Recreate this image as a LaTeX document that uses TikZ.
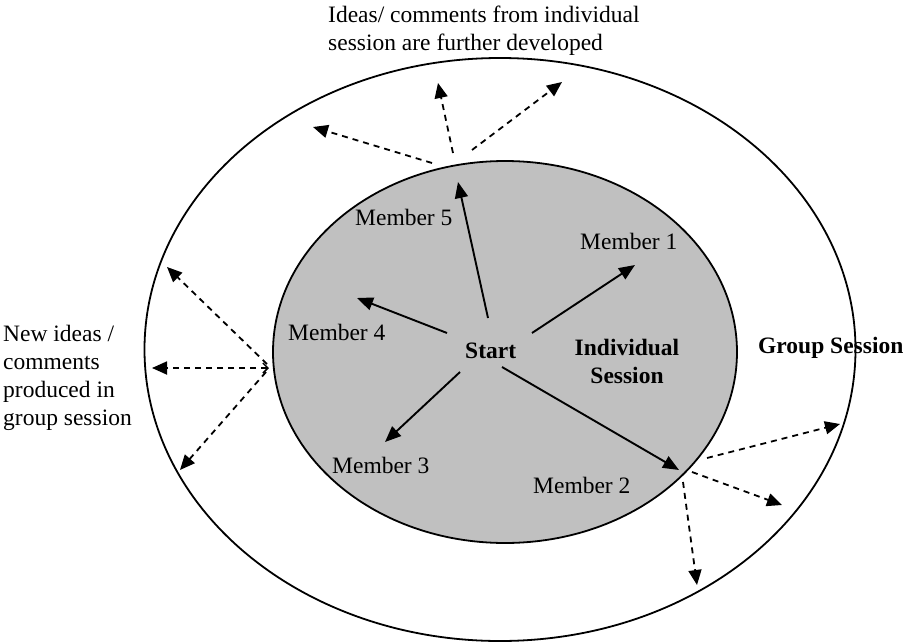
\documentclass[tikz,border=0pt]{standalone}
\usepackage{fontspec}
\setmainfont{Liberation Serif}
\usetikzlibrary{arrows.meta,shapes.geometric}
\definecolor{sessiongrey}{RGB}{192,192,192}
\begin{document}
\begin{tikzpicture}[x=1pt,y=-1pt,
  every node/.style={inner sep=0pt, font=\fontsize{23.5}{28}\selectfont},
  txt/.style={anchor=base west},
  ring/.style={draw, line width=1.8pt, ellipse, inner sep=0pt},
  solidarrow/.style={line width=1.9pt, -{Triangle[length=16pt,width=13pt]}},
  dasharrow/.style={line width=1.8pt, dash pattern=on 6pt off 5pt, -{Triangle[length=15pt,width=13pt]}},
]
\useasboundingbox (0,0) rectangle (906,643);
% group session text (ellipse line drawn over it)
\node[txt, font=\fontsize{23.5}{28}\selectfont\bfseries] (group) at (758,353) {Group Session};
% ellipses
\node[ring, minimum width=711pt, minimum height=583pt] (outer) at (500,349.5) {};
\node[ring, fill=sessiongrey, minimum width=464pt, minimum height=382pt] (inner) at (505,352) {};
% texts
\node[anchor=north west, align=left] (ideas) at (328,6) {Ideas/ comments from individual\\session are further developed};
\node[anchor=north west, align=left] (newideas) at (3,325) {New ideas /\\comments\\produced in\\group session};
\node[txt] (m5) at (355,225) {Member 5};
\node[txt] (m1) at (580,249) {Member 1};
\node[txt] (m4) at (288,340) {Member 4};
\node[txt] (m3) at (332,473) {Member 3};
\node[txt] (m2) at (533,493) {Member 2};
\node[txt, font=\fontsize{23.5}{28}\selectfont\bfseries] (start) at (465,358) {Start};
\node[anchor=north, align=center, font=\fontsize{23.5}{28}\selectfont\bfseries] (indiv) at (627,339) {Individual\\Session};
% solid arrow end points
\coordinate (s5) at (488,318); \coordinate (t5) at (458,182);
\coordinate (s1) at (532,333); \coordinate (t1) at (635,265);
\coordinate (s4) at (447,333); \coordinate (t4) at (357,298);
\coordinate (s3) at (460,372); \coordinate (t3) at (385,442);
\coordinate (s2) at (502,367); \coordinate (t2) at (679,470);
\draw[solidarrow] (s5) -- (t5);
\draw[solidarrow] (s1) -- (t1);
\draw[solidarrow] (s4) -- (t4);
\draw[solidarrow] (s3) -- (t3);
\draw[solidarrow] (s2) -- (t2);
% dashed arrows, top
\coordinate (ua) at (432,163); \coordinate (ua2) at (313,127);
\coordinate (ub) at (453,153); \coordinate (ub2) at (438,83);
\coordinate (uc) at (472,150); \coordinate (uc2) at (562,82);
\draw[dasharrow] (ua) -- (ua2);
\draw[dasharrow] (ub) -- (ub2);
\draw[dasharrow] (uc) -- (uc2);
% dashed arrows, left
\coordinate (la) at (269,368);
\coordinate (lb) at (267,364);
\coordinate (lc) at (266,372);
\coordinate (la1) at (167,267);
\coordinate (la2) at (152,368);
\coordinate (la3) at (180,470);
\draw[dasharrow] (lb) -- (la1);
\draw[dasharrow, {Straight Barb[length=5pt,width=10pt,line width=1.5pt]}-{Triangle[length=15pt,width=13pt]}] (la) -- (la2);
\draw[dasharrow] (lc) -- (la3);
% dashed arrows, bottom right
\coordinate (ra) at (707,458); \coordinate (ra2) at (840,424);
\coordinate (rb) at (692,472); \coordinate (rb2) at (782,505);
\coordinate (rc) at (683,482); \coordinate (rc2) at (697,585);
\draw[dasharrow] (ra) -- (ra2);
\draw[dasharrow] (rb) -- (rb2);
\draw[dasharrow] (rc) -- (rc2);
\end{tikzpicture}
\end{document}
